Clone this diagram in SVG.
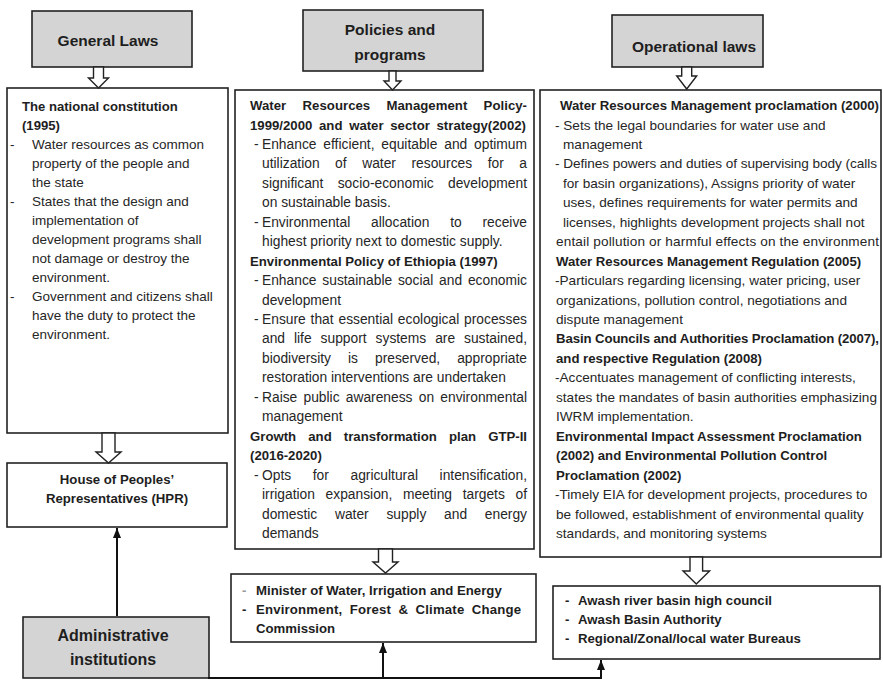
<svg xmlns="http://www.w3.org/2000/svg" width="883" height="682" viewBox="0 0 883 682">
<style>
.box{fill:#fff;stroke:#222;stroke-width:1.6}
.hdr{fill:#d4d4d4;stroke:#222;stroke-width:1.6}
.harrow{fill:#fff;stroke:#222;stroke-width:1.4;stroke-linejoin:miter}
.con{fill:none;stroke:#111;stroke-width:2}
text{font-family:"Liberation Sans",Arial,sans-serif;fill:#262626}
.h{font-size:15.5px;font-weight:bold;text-anchor:middle;fill:#1e1e1e}
.l{font-size:13.5px}
.lb{font-size:13.1px;font-weight:bold;fill:#1e1e1e}
.m{font-size:13.8px}
.mb{font-size:13.2px;font-weight:bold;fill:#1e1e1e}
.r{font-size:13.6px}
.rb{font-size:13.2px;font-weight:bold;fill:#1e1e1e}
.ib{font-size:13.2px;font-weight:bold;fill:#1e1e1e}
.c{text-anchor:middle}
</style>
<defs>
<marker id="ah" viewBox="0 0 10 8" refX="10" refY="4" markerWidth="5" markerHeight="4" orient="auto" markerUnits="strokeWidth">
<path d="M0,0 L10,4 L0,8 z" fill="#111"/>
</marker>
</defs>

<g id="general-laws">
<rect class="hdr" x="32" y="11" width="160" height="56"/>
<text class="h" x="108" y="46">General Laws</text>
</g>

<g id="policies-programs">
<rect class="hdr" x="303" y="10" width="180" height="61"/>
<text class="h" x="390" y="35">Policies and</text>
<text class="h" x="390" y="60">programs</text>
</g>

<g id="operational-laws">
<rect class="hdr" x="612" y="15" width="151" height="52"/>
<text class="h" x="694" y="52">Operational laws</text>
</g>

<g id="constitution">
<rect class="box" x="7" y="88" width="221" height="345"/>
<text class="lb" x="22" y="111">The national constitution</text>
<text class="lb" x="22" y="130">(1995)</text>
<text class="l" x="10" y="149">-</text>
<text class="l" x="32" y="149">Water resources as common</text>
<text class="l" x="32" y="168">property of the people and</text>
<text class="l" x="32" y="187">the state</text>
<text class="l" x="10" y="206">-</text>
<text class="l" x="32" y="206">States that the design and</text>
<text class="l" x="32" y="225">implementation of</text>
<text class="l" x="32" y="244">development programs shall</text>
<text class="l" x="32" y="263">not damage or destroy the</text>
<text class="l" x="32" y="282">environment.</text>
<text class="l" x="10" y="301">-</text>
<text class="l" x="32" y="301">Government and citizens shall</text>
<text class="l" x="32" y="320">have the duty to protect the</text>
<text class="l" x="32" y="339">environment.</text>
</g>

<g id="policies-detail">
<rect class="box" x="235" y="90" width="299" height="459"/>
<text class="mb" x="250" y="110" style="word-spacing:12.6px" textLength="277">Water Resources Management Policy-</text>
<text class="mb" x="250" y="129.5" style="word-spacing:3px" textLength="276">1999/2000 and water sector strategy(2002)</text>
<text class="m" x="254" y="148.9">-</text>
<text class="m" x="262" y="148.9" style="word-spacing:3px" textLength="265">Enhance efficient, equitable and optimum</text>
<text class="m" x="262" y="168.4" style="word-spacing:11.7px" textLength="265">utilization of water resources for a</text>
<text class="m" x="262" y="187.8" style="word-spacing:10.5px" textLength="265">significant socio-economic development</text>
<text class="m" x="262" y="207.3">on sustainable basis.</text>
<text class="m" x="254" y="226.7">-</text>
<text class="m" x="262" y="226.7" style="word-spacing:17px" textLength="265">Environmental allocation to receive</text>
<text class="m" x="262" y="246.2">highest priority next to domestic supply.</text>
<text class="mb" x="250" y="265.6">Environmental Policy of Ethiopia (1997)</text>
<text class="m" x="254" y="285.1">-</text>
<text class="m" x="262" y="285.1" style="word-spacing:2px" textLength="265">Enhance sustainable social and economic</text>
<text class="m" x="262" y="304.5">development</text>
<text class="m" x="254" y="324">-</text>
<text class="m" x="262" y="324" style="word-spacing:1px" textLength="265">Ensure that essential ecological processes</text>
<text class="m" x="262" y="343.4" style="word-spacing:5.1px" textLength="265">and life support systems are sustained,</text>
<text class="m" x="262" y="362.9" style="word-spacing:13.2px" textLength="265">biodiversity is preserved, appropriate</text>
<text class="m" x="262" y="382.3">restoration interventions are undertaken</text>
<text class="m" x="254" y="401.8">-</text>
<text class="m" x="262" y="401.8" style="word-spacing:2.4px" textLength="265">Raise public awareness on environmental</text>
<text class="m" x="262" y="421.2">management</text>
<text class="mb" x="250" y="440.7" style="word-spacing:8.4px" textLength="277">Growth and transformation plan GTP-II</text>
<text class="mb" x="250" y="460.1">(2016-2020)</text>
<text class="m" x="254" y="479.6">-</text>
<text class="m" x="262" y="479.6" style="word-spacing:17.8px" textLength="265">Opts for agricultural intensification,</text>
<text class="m" x="262" y="499" style="word-spacing:6.8px" textLength="265">irrigation expansion, meeting targets of</text>
<text class="m" x="262" y="518.5" style="word-spacing:13.9px" textLength="265">domestic water supply and energy</text>
<text class="m" x="262" y="537.9">demands</text>
</g>

<g id="operational-detail">
<rect class="box" x="540" y="90" width="341" height="467"/>
<text class="rb" x="560" y="110" textLength="319">Water Resources Management proclamation (2000)</text>
<text class="r" x="555" y="129.5">- Sets the legal boundaries for water use and</text>
<text class="r" x="563" y="148.9">management</text>
<text class="r" x="555" y="168.4" textLength="322">- Defines powers and duties of supervising body (calls</text>
<text class="r" x="563" y="187.8">for basin organizations), Assigns priority of water</text>
<text class="r" x="563" y="207.3">uses, defines requirements for water permits and</text>
<text class="r" x="563" y="226.7">licenses, highlights development projects shall not</text>
<text class="r" x="556" y="246.2" textLength="323">entail pollution or harmful effects on the environment</text>
<text class="rb" x="556" y="265.6">Water Resources Management Regulation (2005)</text>
<text class="r" x="555" y="285.1">-Particulars regarding licensing, water pricing, user</text>
<text class="r" x="556" y="304.5">organizations, pollution control, negotiations and</text>
<text class="r" x="556" y="324">dispute management</text>
<text class="rb" x="556" y="343.4" textLength="323">Basin Councils and Authorities Proclamation (2007),</text>
<text class="rb" x="556" y="362.9">and respective Regulation (2008)</text>
<text class="r" x="555" y="382.3">-Accentuates management of conflicting interests,</text>
<text class="r" x="556" y="401.8" textLength="321">states the mandates of basin authorities emphasizing</text>
<text class="r" x="556" y="421.2">IWRM implementation.</text>
<text class="rb" x="556" y="440.7">Environmental Impact Assessment Proclamation</text>
<text class="rb" x="556" y="460.1">(2002) and Environmental Pollution Control</text>
<text class="rb" x="556" y="479.6">Proclamation (2002)</text>
<text class="r" x="555" y="499">-Timely EIA for development projects, procedures to</text>
<text class="r" x="556" y="518.5">be followed, establishment of environmental quality</text>
<text class="r" x="556" y="537.9">standards, and monitoring systems</text>
</g>

<g id="hpr">
<rect class="box" x="7" y="463" width="220" height="64"/>
<text class="ib c" x="117" y="484">House of Peoples’</text>
<text class="ib c" x="117" y="503">Representatives (HPR)</text>
</g>

<g id="ministries">
<rect class="box" x="231" y="574" width="305" height="68"/>
<text class="ib" x="242" y="595" style="fill:#9a9a9a">-</text>
<text class="ib" x="256" y="595">Minister of Water, Irrigation and Energy</text>
<text class="ib" x="242" y="614">-</text>
<text class="ib" x="256" y="614" style="word-spacing:3.5px" textLength="265">Environment, Forest &amp; Climate Change</text>
<text class="ib" x="256" y="633">Commission</text>
</g>

<g id="basin-bodies">
<rect class="box" x="553" y="586" width="327" height="73"/>
<text class="ib" x="565" y="605">-</text>
<text class="ib" x="578" y="605">Awash river basin high council</text>
<text class="ib" x="565" y="624">-</text>
<text class="ib" x="578" y="624">Awash Basin Authority</text>
<text class="ib" x="565" y="643">-</text>
<text class="ib" x="578" y="643">Regional/Zonal/local water Bureaus</text>
</g>

<g id="administrative-institutions">
<rect class="hdr" x="23" y="617" width="186" height="61"/>
<text class="h" x="113" y="641" style="font-size:16px">Administrative</text>
<text class="h" x="113" y="665" style="font-size:16px">institutions</text>
</g>

<g id="connectors">
<polygon class="harrow" points="93.5,67 103.5,67 103.5,78 108.5,78 98.5,88 88.5,78 93.5,78"/>
<polygon class="harrow" points="102,433 115,433 115,452 121,452 108.5,463 96,452 102,452"/>
<polygon class="harrow" points="389,71 396,71 396,81 401,81 392.5,90 384,81 389,81"/>
<polygon class="harrow" points="681.7,67 691.7,67 691.7,76 696.7,76 686.7,89 676.7,76 681.7,76"/>
<polygon class="harrow" points="378.5,549 392.5,549 392.5,562 398,562 385.5,573 373,562 378.5,562"/>
<polygon class="harrow" points="690,557 702.6,557 702.6,571 709.6,571 696.3,584 683,571 690,571"/>
<path class="con" d="M117,616 L117,528" marker-end="url(#ah)"/>
<path class="con" d="M208,678 L601,678 L601,660" marker-end="url(#ah)"/>
<path class="con" d="M383,678 L383,643" marker-end="url(#ah)"/>
</g>
</svg>
